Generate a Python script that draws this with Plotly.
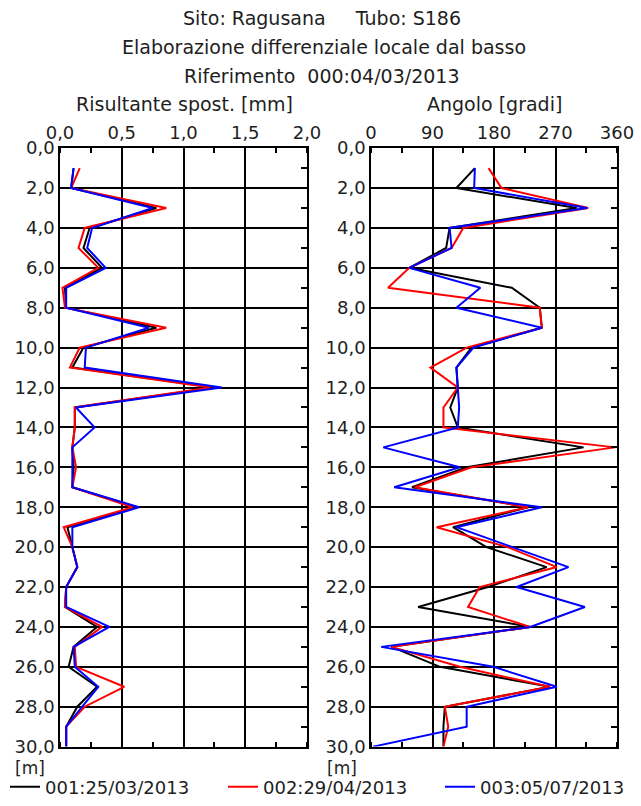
import plotly.graph_objects as go

depth = list(range(1, 31))

disp_001 = [0.11, 0.09, 0.78, 0.24, 0.19, 0.34, 0.04, 0.05, 0.78, 0.19, 0.10, 1.25, 0.12, 0.12, 0.10,
            0.11, 0.10, 0.62, 0.06, 0.10, 0.14, 0.05, 0.04, 0.30, 0.11, 0.07, 0.30, 0.14, 0.05, 0.05]
disp_002 = [0.16, 0.09, 0.86, 0.20, 0.15, 0.31, 0.02, 0.04, 0.86, 0.16, 0.08, 1.22, 0.12, 0.12, 0.10,
            0.13, 0.10, 0.59, 0.03, 0.10, 0.14, 0.05, 0.04, 0.34, 0.12, 0.13, 0.52, 0.20, 0.05, 0.05]
disp_003 = [0.11, 0.09, 0.75, 0.26, 0.22, 0.37, 0.05, 0.05, 0.72, 0.21, 0.20, 1.31, 0.13, 0.28, 0.10,
            0.10, 0.10, 0.64, 0.10, 0.10, 0.14, 0.05, 0.05, 0.40, 0.11, 0.12, 0.31, 0.18, 0.05, 0.05]

ang_001 = [152, 125, 301, 115, 110, 56, 206, 247, 250, 147, 125, 127, 116, 127, 311,
           140, 60, 230, 120, 169, 257, 171, 69, 233, 30, 101, 262, 108, 106, 106]
ang_002 = [172, 191, 318, 135, 118, 56, 25, 247, 250, 140, 87, 127, 106, 106, 357,
           147, 64, 230, 96, 200, 272, 159, 142, 233, 30, 130, 262, 108, 113, 106]
ang_003 = [152, 151, 316, 115, 118, 56, 160, 125, 250, 150, 125, 127, 129, 127, 18,
           130, 34, 250, 125, 207, 289, 213, 313, 233, 15, 179, 272, 140, 140, 3]

series_names = ["001:25/03/2013", "002:29/04/2013", "003:05/07/2013"]
series_colors = ["#000000", "#ff0000", "#0000ff"]
disp_series = [disp_001, disp_002, disp_003]
ang_series = [ang_001, ang_002, ang_003]

disp_ticks = [0, 0.5, 1.0, 1.5, 2.0]
ang_ticks = [0, 90, 180, 270, 360]
depth_ticks = list(range(0, 31, 2))
odd_ticks = list(range(1, 30, 2))

FONT = "DejaVu Sans"
TXT = "#1e1e1e"
W, H = 641, 806

legend_ids = ["legend", "legend2", "legend3"]
legend_x_px = [5, 223, 440]

fig = go.Figure()
for name, col, d, a, lid in zip(series_names, series_colors, disp_series, ang_series, legend_ids):
    fig.add_trace(go.Scatter(x=d, y=depth, mode="lines", line=dict(color=col, width=2),
                             name=name, xaxis="x", yaxis="y", showlegend=True, legend=lid))
    fig.add_trace(go.Scatter(x=a, y=depth, mode="lines", line=dict(color=col, width=2),
                             name=name, xaxis="x2", yaxis="y2", showlegend=False))
# helper traces for right-side minor tick axes
fig.add_trace(go.Scatter(x=[], y=[], xaxis="x", yaxis="y3", showlegend=False))
fig.add_trace(go.Scatter(x=[], y=[], xaxis="x2", yaxis="y4", showlegend=False))

ydom = [1 - 756 / H, 1 - 150 / H]
xdom1 = [60 / W, 307 / W]
xdom2 = [371 / W, 617 / W]

def xaxis_cfg(dom, rng, ticks, fmt, anchor):
    return dict(domain=dom, range=rng, side="top", anchor=anchor, tickvals=ticks,
                tickformat=fmt, showgrid=True, gridcolor="#000000", gridwidth=1.5,
                showline=True, linecolor="#000000", linewidth=1.5, mirror="allticks",
                ticks="", zeroline=False, automargin=False,
                minor=dict(ticks="inside", ticklen=5, tickcolor="#000000", tickwidth=1.5,
                           dtick=(rng[1] - rng[0]) / 8, showgrid=False),
                tickfont=dict(family=FONT, size=18, color=TXT))

def yaxis_cfg(anchor):
    return dict(domain=ydom, range=[30, 0], anchor=anchor, tickvals=depth_ticks,
                tickformat=".1f", showgrid=True, gridcolor="#000000", gridwidth=1.5,
                showline=True, linecolor="#000000", linewidth=1.5, mirror=True,
                ticks="", zeroline=False, automargin=False,
                tickfont=dict(family=FONT, size=18, color=TXT))

def ytick_cfg(over, anchor):
    return dict(overlaying=over, anchor=anchor, side="right", range=[30, 0],
                tickvals=odd_ticks, ticks="inside", ticklen=6, tickwidth=1.5,
                tickcolor="#000000", showticklabels=False, showgrid=False,
                showline=False, zeroline=False, automargin=False)

def legend_cfg(xpx):
    return dict(orientation="h", x=xpx / W, xanchor="left", y=1 - 797 / H, yanchor="middle",
                bgcolor="rgba(0,0,0,0)", borderwidth=0,
                font=dict(family=FONT, size=18, color=TXT))

fig.update_layout(
    template="none",
    width=W, height=H,
    margin=dict(l=0, r=0, t=0, b=0),
    paper_bgcolor="white", plot_bgcolor="white",
    separators=",.",
    xaxis=xaxis_cfg(xdom1, [0, 2], disp_ticks, ".1f", "y"),
    xaxis2=xaxis_cfg(xdom2, [0, 360], ang_ticks, "d", "y2"),
    yaxis=yaxis_cfg("x"),
    yaxis2=yaxis_cfg("x2"),
    yaxis3=ytick_cfg("y", "x"),
    yaxis4=ytick_cfg("y2", "x2"),
    font=dict(family=FONT, size=18, color=TXT),
    showlegend=True,
    legend=legend_cfg(legend_x_px[0]),
    legend2=legend_cfg(legend_x_px[1]),
    legend3=legend_cfg(legend_x_px[2]),
)

def ann(text, x, y, size=19, xanchor="center"):
    fig.add_annotation(text=text, x=x / W, y=1 - y / H, xref="paper", yref="paper",
                       showarrow=False, xanchor=xanchor, yanchor="middle",
                       font=dict(family=FONT, size=size, color=TXT))

ann("Sito: Ragusana     Tubo: S186", 322, 18)
ann("Elaborazione differenziale locale dal basso", 324, 48)
ann("Riferimento  000:04/03/2013", 322, 77)
ann("Risultante spost. [mm]", 184, 105)
ann("Angolo [gradi]", 494, 105)
ann("[m]", 30, 778, size=17)
ann("[m]", 342, 778, size=17)

fig.write_html("out.html")
